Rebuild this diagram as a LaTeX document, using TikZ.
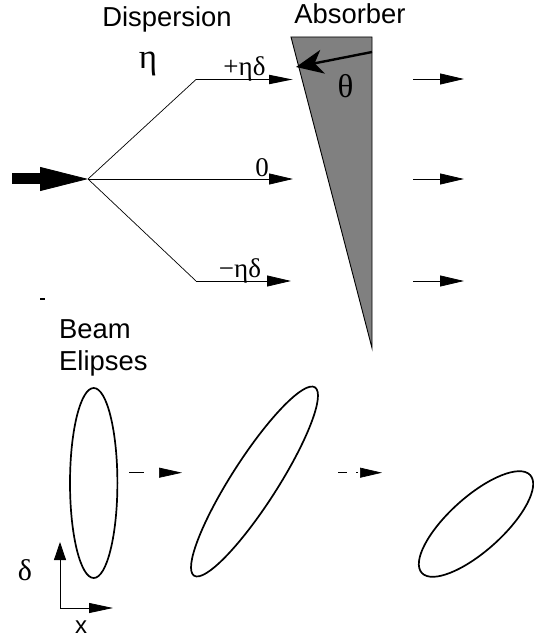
\documentclass[tikz,border=0pt]{standalone}
\usepackage{fontspec}
\setmainfont{Liberation Sans}
\newfontfamily\greekfont{Liberation Serif}
\usetikzlibrary{arrows.meta}
\tikzset{
    ray/.style={line width=0.8pt, -{Triangle[length=24pt, width=11pt]}},
    beamline/.style={line width=0.7pt},
    ellipsecurve/.style={line width=1.7pt},
    lab/.style={inner sep=0pt, anchor=base, font=\fontsize{27.4}{30}\selectfont},
    greeklab/.style={inner sep=0pt, anchor=base, font=\fontsize{27}{28}\greekfont},
}
\begin{document}
\begin{tikzpicture}[x=1pt, y=-1pt]
    \useasboundingbox (0,0) rectangle (534,636);
    % absorber wedge
    \draw[fill=black!50, line width=0.9pt] (291,37) -- (372,37) -- (372,348) -- cycle;
    % the fan of rays
    \coordinate (src) at (88,179);
    \coordinate (neck) at (41,179);
    \coordinate (bendup) at (196,79.5);
    \coordinate (bendlow) at (196,281);
    \coordinate (tipup) at (293,79.5);
    \coordinate (tipmid) at (293,179);
    \coordinate (tiplow) at (291,281);
    \coordinate (tail) at (12,179);
    \draw[line width=11pt] (tail) -- (neck);
    \draw[line width=0.8pt, -{Triangle[length=48pt, width=24pt]}] (neck) -- (src);
    \draw[beamline] (src) -- (bendup);
    \draw[beamline] (src) -- (bendlow);
    \draw[line width=1.8pt, -{Triangle[length=24pt, width=9pt]}] (bendup) -- (tipup);
    \draw[ray] (src) -- (tipmid);
    \draw[ray] (bendlow) -- (tiplow);
    % rays behind the wedge
    \foreach \n/\y in {up/79, mid/179, low/281} {
        \coordinate (out\n a) at (413,\y);
        \coordinate (out\n b) at (464,\y);
        \draw[ray] (out\n a) -- (out\n b);
    }
    % pointer on the wedge
    \coordinate (ptrstart) at (372,52);
    \coordinate (ptrend) at (296,67);
    \draw[line width=2.4pt, -{Stealth[length=27pt, width=24pt, inset=8pt]}] (ptrstart) -- (ptrend);
    % stray mark
    \coordinate (marka) at (40,298.5);
    \coordinate (markb) at (45,298.5);
    \draw[line width=2pt] (marka) -- (markb);
    % labels
    \node[lab] (disp) at (167,27) {Dispersion};
    \node[lab] (absb) at (350,24) {Absorber};
    \node[greeklab, font=\fontsize{35}{36}\greekfont] (eta) at (148,69) {η};
    \node[greeklab] (plus) at (244.5,76) {+ηδ};
    \node[greeklab] (zero) at (262,177) {0};
    \node[greeklab] (minus) at (240,277) {−ηδ};
    \node[greeklab, font=\fontsize{33}{36}\greekfont] (theta) at (345.5,98) {θ};
    \node[lab, anchor=base west] (beam) at (59,338) {Beam};
    \node[lab, anchor=base west] (elip) at (59,370) {Elipses};
    % beam ellipses
    \draw[ellipsecurve] (93.7,483) ellipse [x radius=23.7, y radius=95];
    \draw[ellipsecurve] (254.5,481.5) ellipse [x radius=111.9, y radius=23, rotate=57.3];
    \draw[ellipsecurve] (476,524) ellipse [x radius=73, y radius=27, rotate=42];
    % arrows between ellipses
    \coordinate (gapa) at (129,472.7);
    \coordinate (gapb) at (182,472.7);
    \coordinate (gapc) at (338,472.7);
    \coordinate (gapd) at (382,472.7);
    \draw[beamline, dash pattern=on 15pt off 100pt, -{Triangle[length=23pt, width=10pt]}] (gapa) -- (gapb);
    \draw[beamline, dash pattern=on 9pt off 9pt on 2pt off 100pt, -{Triangle[length=22pt, width=10pt]}] (gapc) -- (gapd);
    % axes
    \coordinate (orig) at (60,608);
    \coordinate (axisy) at (60,542);
    \coordinate (axisx) at (113,608);
    \draw[line width=0.8pt, -{Triangle[length=18pt, width=12pt]}] (orig) -- (axisy);
    \draw[line width=0.8pt, -{Triangle[length=24pt, width=10pt]}] (orig) -- (axisx);
    \node[greeklab, font=\fontsize{30}{32}\greekfont] (dlt) at (25,580) {δ};
    \node[lab, font=\fontsize{24}{26}\selectfont] (xlab) at (81,633) {x};
\end{tikzpicture}
\end{document}
